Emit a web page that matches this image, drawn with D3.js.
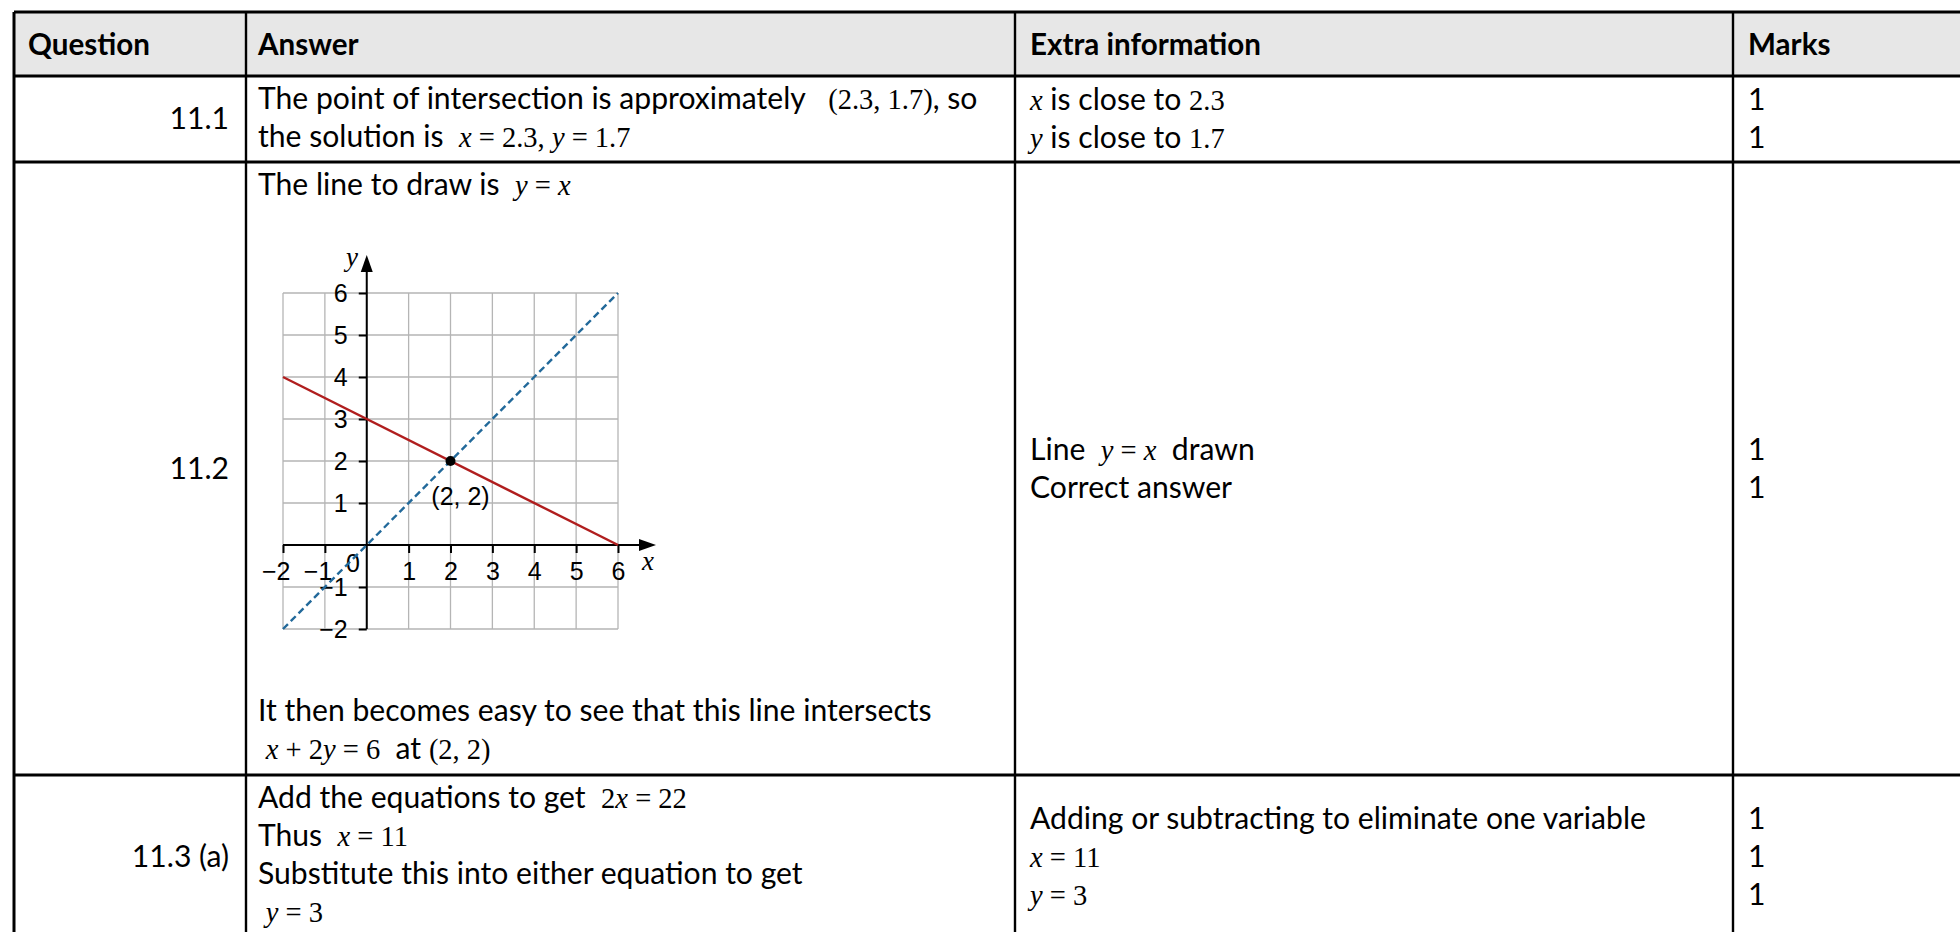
<!DOCTYPE html>
<html>
<head>
<meta charset="utf-8">
<script src="https://cdn.jsdelivr.net/npm/d3@7"></script>
<style>
  body { margin: 0; background: #fff; }
  svg text { white-space: pre; }
</style>
</head>
<body>
<svg id="chart"></svg>
<script>
// ---- table content ----
// text between |...| is maths (letters italic, serif)
var headers = ["Question", "Answer", "Extra information", "Marks"];
var questions = ["11.1", "11.2", "11.3 (a)"];
var answersTop = [
  ["The point of intersection is approximately   |(2.3, 1.7)|, so", "the solution is  |x = 2.3, y = 1.7|"],
  ["The line to draw is  |y = x|"],
  ["Add the equations to get  |2x = 22|", "Thus  |x = 11|", "Substitute this into either equation to get", " |y = 3|"]
];
var answersBottom = [
  [],
  ["It then becomes easy to see that this line intersects", " |x + 2y = 6|  at |(2, 2)|"],
  []
];
var extras = [
  ["|x| is close to |2.3|", "|y| is close to |1.7|"],
  ["Line  |y = x|  drawn", "Correct answer"],
  ["Adding or subtracting to eliminate one variable", "|x = 11|", "|y = 3|"]
];
var marks = [[1, 1], [1, 1], [1, 1, 1]];

// ---- graph content ----
var axisTicks = [-2, -1, 1, 2, 3, 4, 5, 6];
var gridValues = [-2, -1, 0, 1, 2, 3, 4, 5, 6];
var redLine = [[-2, 4], [6, 0]];      // x + 2y = 6
var blueLine = [[-2, -2], [6, 6]];    // y = x
var crossPoint = [2, 2];
var crossLabel = "(2, 2)";

var BODY = "Lato, 'Open Sans', sans-serif";
var MATH = "'Liberation Serif', 'DejaVu Serif', serif";
var GRAPHFONT = "'Liberation Sans', Arial, sans-serif";

var svg = d3.select("#chart").attr("width", 1960).attr("height", 932);

// fit body font to the width the reference text takes
function measure(txt, size, weight) {
  var t = svg.append("text").attr("font-family", BODY)
    .attr("font-size", size).attr("font-weight", weight).text(txt);
  var w = t.node().getComputedTextLength();
  t.remove();
  return w;
}
var bodySize = 32 * 548 / measure("The point of intersection is approximately", 32, 400);
var headSize = 32 * 122 / measure("Question", 32, 700);
var mathSize = 28.5;
var lineGap = 38;

// table layout
var colX = [14, 246, 1015, 1733, 1964];
var rowY = [12, 76, 162, 775, 938];
var textX = [229, 258, 1030, 1748];

var table = svg.append("g");

table.append("rect")
  .attr("x", colX[0]).attr("y", rowY[0])
  .attr("width", colX[4] - colX[0]).attr("height", rowY[1] - rowY[0])
  .attr("fill", "#e7e7e7");

table.selectAll("line.h").data(rowY).enter().append("line")
  .attr("x1", colX[0]).attr("x2", colX[4])
  .attr("y1", d => d).attr("y2", d => d)
  .attr("stroke", "#000").attr("stroke-width", 3);

table.selectAll("line.v").data(colX.slice(0, 4)).enter().append("line")
  .attr("x1", d => d).attr("x2", d => d)
  .attr("y1", rowY[0]).attr("y2", rowY[4])
  .attr("stroke", "#000").attr("stroke-width", (d, i) => i === 0 ? 3 : 2.4);

// draws one line of mixed text / maths
function richLine(g, x, y, str, anchor) {
  var t = g.append("text").attr("x", x).attr("y", y)
    .attr("text-anchor", anchor || "start").attr("fill", "#000");
  str.split("|").forEach(function(part, i) {
    if (!part) return;
    if (i % 2 === 0) {
      t.append("tspan").attr("font-family", BODY).attr("font-size", bodySize).text(part);
    } else {
      part.split(/([a-z])/).forEach(function(p) {
        if (!p) return;
        t.append("tspan").attr("font-family", MATH).attr("font-size", mathSize)
          .attr("font-style", /^[a-z]$/.test(p) ? "italic" : "normal").text(p);
      });
    }
  });
  return t;
}

// headers
headers.forEach(function(h, i) {
  table.append("text")
    .attr("x", i === 0 ? 28 : textX[i]).attr("y", (rowY[0] + rowY[1]) / 2 + 11)
    .attr("font-family", BODY).attr("font-weight", 700).attr("font-size", headSize)
    .text(h);
});

// body rows
questions.forEach(function(q, r) {
  var top = rowY[r + 1], bottom = rowY[r + 2], mid = (top + bottom) / 2;

  richLine(table, textX[0], mid + 10, q, "end");

  answersTop[r].forEach(function(s, k) {
    richLine(table, textX[1], top + 33 + k * lineGap, s);
  });
  var nb = answersBottom[r].length;
  answersBottom[r].forEach(function(s, k) {
    richLine(table, textX[1], bottom - 16 - (nb - 1 - k) * lineGap, s);
  });

  var ne = extras[r].length;
  extras[r].forEach(function(s, k) {
    richLine(table, textX[2], mid - (ne - 1) * lineGap / 2 + k * lineGap + 10, s);
  });

  var nm = marks[r].length;
  marks[r].forEach(function(m, k) {
    richLine(table, textX[3], mid - (nm - 1) * lineGap / 2 + k * lineGap + 10, String(m));
  });
});

// ---- graph ----
var x = d3.scaleLinear().domain([-2, 6]).range([283, 618]);
var y = d3.scaleLinear().domain([-2, 6]).range([629, 293]);

var graph = svg.append("g");

// grid
graph.selectAll("line.gx").data(gridValues).enter().append("line")
  .attr("x1", d => x(d)).attr("x2", d => x(d))
  .attr("y1", y(-2)).attr("y2", y(6))
  .attr("stroke", "#b5b5b5").attr("stroke-width", 1.3);
graph.selectAll("line.gy").data(gridValues).enter().append("line")
  .attr("x1", x(-2)).attr("x2", x(6))
  .attr("y1", d => y(d)).attr("y2", d => y(d))
  .attr("stroke", "#b5b5b5").attr("stroke-width", 1.3);

// axes
var xAxis = d3.axisBottom(x).tickValues(axisTicks).tickSizeInner(8).tickSizeOuter(0).tickPadding(9);
var yAxis = d3.axisLeft(y).tickValues(axisTicks).tickSizeInner(8).tickSizeOuter(0).tickPadding(11);

var gx = graph.append("g").attr("transform", `translate(0, ${y(0)})`).call(xAxis);
var gy = graph.append("g").attr("transform", `translate(${x(0)}, 0)`).call(yAxis);

[gx, gy].forEach(function(g) {
  g.select(".domain").remove();
  g.selectAll("line").attr("stroke", "#000").attr("stroke-width", 2);
  g.selectAll("text").attr("font-family", GRAPHFONT).attr("font-size", 25).attr("fill", "#000");
});
gx.selectAll(".tick text").filter(d => d < 0).attr("text-anchor", "end").attr("x", 7);

// axis lines with arrow heads
graph.append("line")
  .attr("x1", x(-2)).attr("x2", 645).attr("y1", y(0)).attr("y2", y(0))
  .attr("stroke", "#000").attr("stroke-width", 2);
graph.append("path")
  .attr("d", `M656,${y(0)} L639,${y(0) - 6} L639,${y(0) + 6} Z`).attr("fill", "#000");
graph.append("line")
  .attr("x1", x(0)).attr("x2", x(0)).attr("y1", y(-2)).attr("y2", 266)
  .attr("stroke", "#000").attr("stroke-width", 2);
graph.append("path")
  .attr("d", `M${x(0)},255 L${x(0) - 6},272 L${x(0) + 6},272 Z`).attr("fill", "#000");

graph.append("text").attr("x", 353).attr("y", 572)
  .attr("text-anchor", "middle").attr("font-family", GRAPHFONT).attr("font-size", 25)
  .text("0");
graph.append("text").attr("x", 352).attr("y", 266)
  .attr("text-anchor", "middle").attr("font-family", MATH).attr("font-style", "italic")
  .attr("font-size", 27).text("y");
graph.append("text").attr("x", 648).attr("y", 570)
  .attr("text-anchor", "middle").attr("font-family", MATH).attr("font-style", "italic")
  .attr("font-size", 27).text("x");

// lines
var lineGen = d3.line().x(d => x(d[0])).y(d => y(d[1]));
graph.append("path").datum(redLine).attr("d", lineGen)
  .attr("fill", "none").attr("stroke", "#b01e1e").attr("stroke-width", 2.4);
graph.append("path").datum(blueLine).attr("d", lineGen)
  .attr("fill", "none").attr("stroke", "#22699a").attr("stroke-width", 2.4)
  .attr("stroke-dasharray", "7,4");

graph.append("circle")
  .attr("cx", x(crossPoint[0])).attr("cy", y(crossPoint[1])).attr("r", 5)
  .attr("fill", "#000");
graph.append("text")
  .attr("x", x(crossPoint[0]) + 10).attr("y", y(crossPoint[1]) + 44)
  .attr("text-anchor", "middle").attr("font-family", GRAPHFONT).attr("font-size", 25)
  .text(crossLabel);
</script>
</body>
</html>
